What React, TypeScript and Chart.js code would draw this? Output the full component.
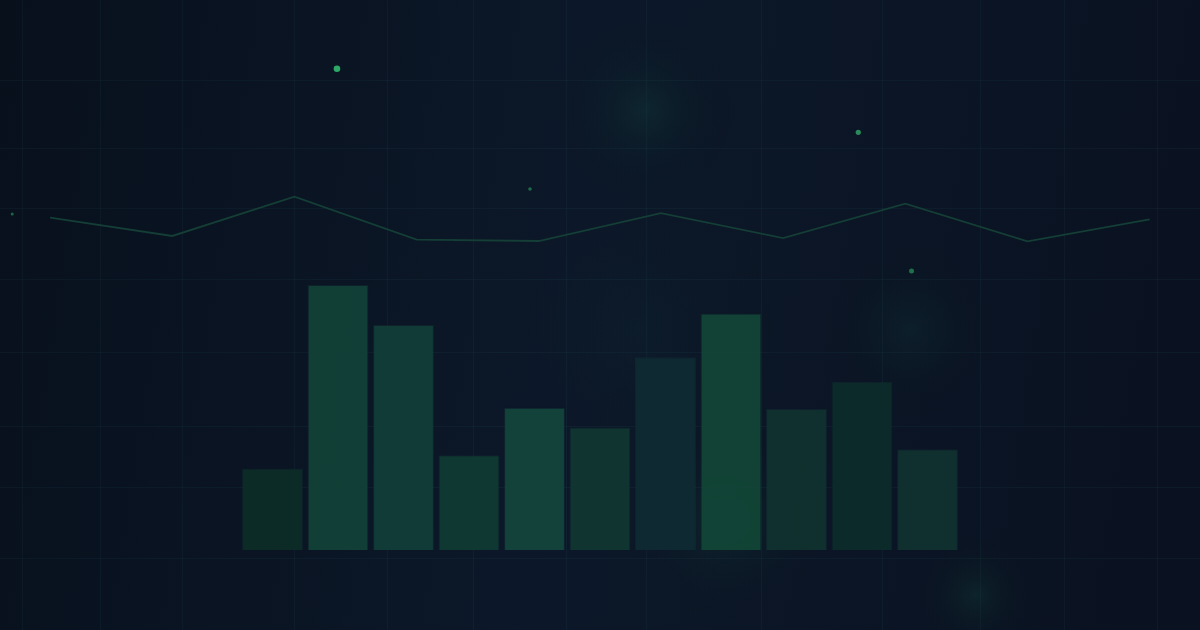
import React, { useEffect, useRef } from "react";
import { Chart, registerables } from "chart.js";

Chart.register(...registerables);

// ---- data ----
const barLabels = ["1", "2", "3", "4", "5", "6", "7", "8", "9", "10", "11"];
const barValues = [30.8, 100, 84.9, 35.8, 53.7, 46.2, 72.7, 89.2, 53.2, 63.4, 38.0];
const barColors = [
  "rgba(13,44,40,0.95)",
  "rgba(18,64,55,0.95)",
  "rgba(17,61,56,0.95)",
  "rgba(16,58,52,0.95)",
  "rgba(19,68,58,0.95)",
  "rgba(17,55,49,0.95)",
  "rgba(15,42,50,0.95)",
  "rgba(18,70,55,0.93)",
  "rgba(17,50,47,0.95)",
  "rgba(14,43,43,0.95)",
  "rgba(17,48,48,0.95)",
];
const lineValues = [125.4, 118.5, 133.3, 117.1, 116.6, 127.1, 117.7, 130.7, 116.5, 124.8];
const sparkX = [-0.31, 2.348, 3.928, 6.615, 7.051];
const sparkY = [126.8, 181.6, 136.2, 157.6, 105.3];
const sparkR = [1.5, 3.3, 1.8, 2.6, 2.5];
const sparkColors = ["#1d6644", "#2ea866", "#1f6a48", "#2a8a5a", "#1f7048"];
const gridXTicks = [22, 100, 182, 294, 387, 473, 566, 646, 761, 882, 980, 1064, 1157];
const gridYTicks = [80, 148, 208, 279, 352, 426, 487, 558];

const glows = [
  { x: 645, y: 110, r: 95, c: "rgba(22,95,75,0.20)" },
  { x: 910, y: 330, r: 95, c: "rgba(22,95,75,0.14)" },
  { x: 725, y: 520, r: 110, c: "rgba(30,140,85,0.12)" },
  { x: 975, y: 595, r: 65, c: "rgba(30,130,85,0.14)" },
  { x: 640, y: 330, r: 160, c: "rgba(22,80,75,0.08)" },
];

const bgPlugin = {
  id: "bg",
  beforeDraw(chart: any) {
    const { ctx, width, height } = chart;
    ctx.save();
    const g = ctx.createLinearGradient(0, 0, width, height * 0.3);
    g.addColorStop(0, "#08101c");
    g.addColorStop(0.5, "#0c1829");
    g.addColorStop(1, "#0a1221");
    ctx.fillStyle = g;
    ctx.fillRect(0, 0, width, height);
    for (const gl of glows) {
      const rg = ctx.createRadialGradient(gl.x, gl.y, 0, gl.x, gl.y, gl.r);
      rg.addColorStop(0, gl.c);
      rg.addColorStop(1, "rgba(0,0,0,0)");
      ctx.fillStyle = rg;
      ctx.fillRect(gl.x - gl.r, gl.y - gl.r, gl.r * 2, gl.r * 2);
    }
    ctx.restore();
  },
};

export default function App() {
  const ref = useRef<HTMLCanvasElement | null>(null);
  useEffect(() => {
    if (!ref.current) return;
    const hiddenGrid = {
      color: "rgba(45,90,100,0.12)",
      lineWidth: 1,
      drawTicks: false,
      tickLength: 0,
      offset: false,
    };
    const chart = new Chart(ref.current, {
      type: "bar",
      data: {
        labels: barLabels,
        datasets: [
          {
            type: "scatter",
            data: sparkX.map((x, i) => ({ x, y: sparkY[i] })),
            xAxisID: "xl",
            yAxisID: "yb",
            pointRadius: sparkR,
            pointBackgroundColor: sparkColors,
            pointBorderWidth: 0,
            order: 0,
          } as any,
          {
            type: "line",
            data: lineValues.map((y, i) => ({ x: i, y })),
            xAxisID: "xl",
            yAxisID: "yb",
            borderColor: "#143e36",
            borderWidth: 1.8,
            pointRadius: 0,
            tension: 0,
            fill: false,
            order: 1,
          } as any,
          {
            type: "bar",
            data: barValues.map((y, i) => ({ x: i, y })),
            xAxisID: "xb",
            yAxisID: "yb",
            backgroundColor: barColors,
            borderColor: "rgba(40,120,90,0.12)",
            borderWidth: 1,
            barPercentage: 0.93,
            categoryPercentage: 1,
            grouped: false,
            order: 2,
          } as any,
        ],
      },
      options: {
        animation: false,
        responsive: false,
        maintainAspectRatio: false,
        layout: { padding: 0, autoPadding: false } as any,
        plugins: { legend: { display: false }, tooltip: { enabled: false } },
        scales: {
          xb: {
            type: "linear",
            axis: "x",
            offset: false,
            min: -4.16,
            max: 14.16,
            display: false,
            afterBuildTicks: (s: any) => {
              s.ticks = barLabels.map((_, i) => ({ value: i }));
            },
          } as any,
          xl: {
            type: "linear",
            axis: "x",
            offset: false,
            min: -0.41,
            max: 9.412,
            display: false,
          },
          yb: {
            type: "linear",
            axis: "y",
            offset: false,
            min: -30.19,
            max: 207.55,
            display: false,
          },
          gx: {
            type: "linear",
            axis: "x",
            position: "bottom",
            offset: false,
            min: 0,
            max: 1200,
            display: true,
            border: { display: false },
            ticks: { display: false, padding: 0 },
            grid: hiddenGrid,
            afterBuildTicks: (s: any) => {
              s.ticks = gridXTicks.map((v) => ({ value: v }));
            },
            afterFit: (s: any) => {
              s.height = 0;
            },
          } as any,
          gy: {
            type: "linear",
            axis: "y",
            position: "left",
            offset: false,
            min: 0,
            max: 630,
            reverse: true,
            display: true,
            border: { display: false },
            ticks: { display: false, padding: 0 },
            grid: hiddenGrid,
            afterBuildTicks: (s: any) => {
              s.ticks = gridYTicks.map((v) => ({ value: v }));
            },
            afterFit: (s: any) => {
              s.width = 0;
            },
          } as any,
        },
      },
      plugins: [bgPlugin],
    });
    return () => chart.destroy();
  }, []);
  return (
    <div style={{ position: "fixed", left: 0, top: 0, width: 1200, height: 630, background: "#0b1626" }}>
      <canvas ref={ref} width={1200} height={630} style={{ display: "block", width: 1200, height: 630 }} />
    </div>
  );
}
